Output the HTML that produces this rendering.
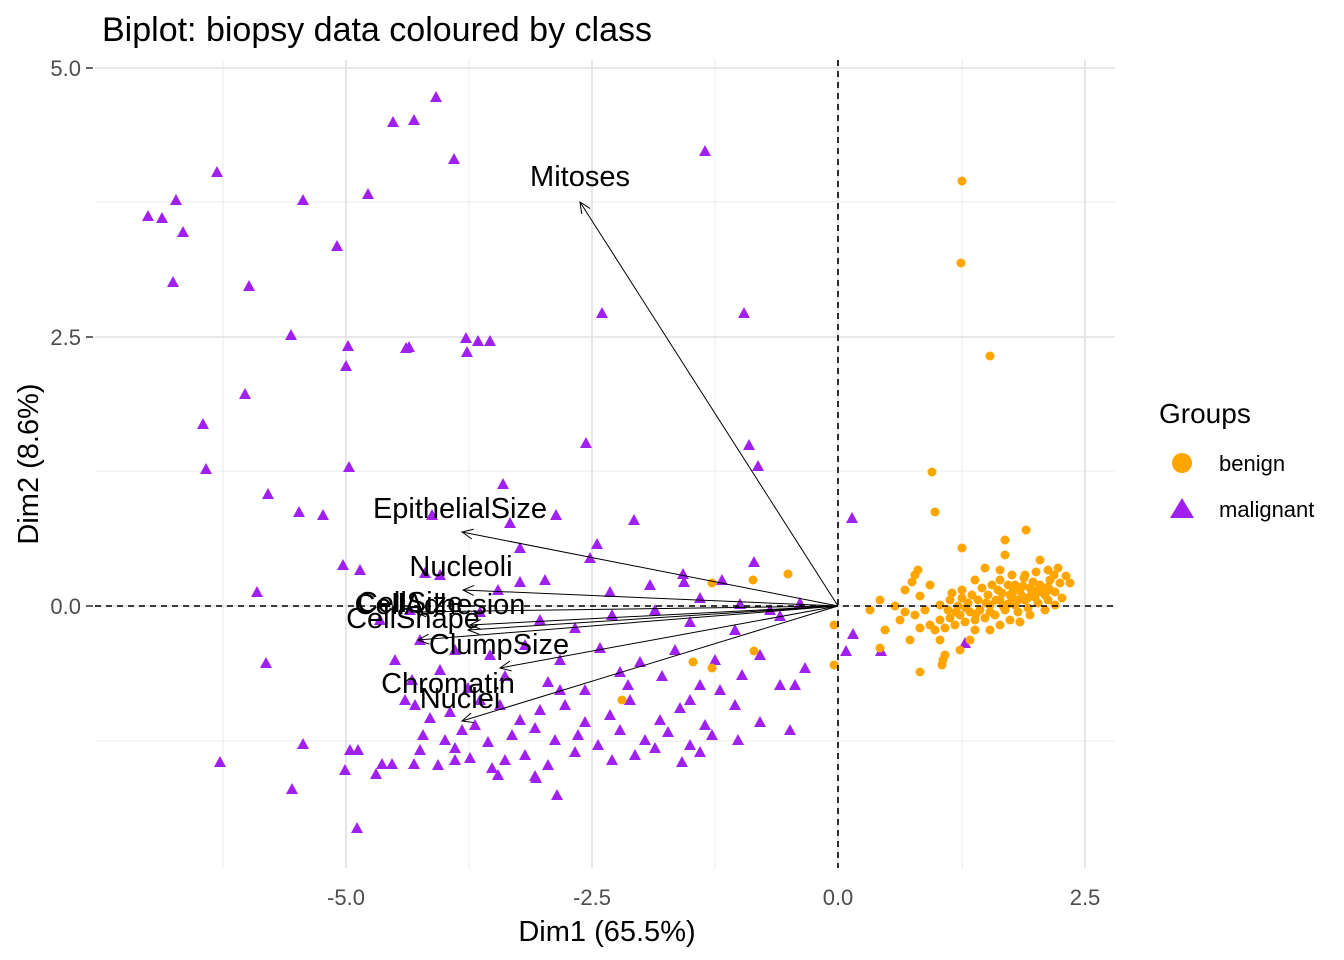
<!DOCTYPE html>
<html><head><meta charset="utf-8"><style>
html,body{margin:0;padding:0;background:#fff;}
svg{display:block;font-family:"Liberation Sans",Arial,sans-serif;}
</style></head><body>
<svg width="1344" height="960" xmlns="http://www.w3.org/2000/svg">
<defs>
<polygon id="t" points="0,-6 6,5 -6,5" fill="#A020F0"/>
<circle id="c" r="4.5" fill="#FFA500"/>
<marker id="a" markerWidth="14" markerHeight="14" refX="12" refY="7" orient="auto" markerUnits="userSpaceOnUse"><polyline points="1,2 12,7 1,12" fill="none" stroke="#000" stroke-width="1"/></marker>
</defs>
<rect width="1344" height="960" fill="#fff"/>
<g stroke="#ebebeb" stroke-width="1">
<line x1="223" y1="60" x2="223" y2="868"/><line x1="469" y1="60" x2="469" y2="868"/>
<line x1="715" y1="60" x2="715" y2="868"/><line x1="962" y1="60" x2="962" y2="868"/>
<line x1="95" y1="202" x2="1115" y2="202"/><line x1="95" y1="471" x2="1115" y2="471"/>
<line x1="95" y1="741" x2="1115" y2="741"/>
</g>
<g stroke="#e0e0e0" stroke-width="1.6">
<line x1="346" y1="60" x2="346" y2="868"/><line x1="592" y1="60" x2="592" y2="868"/>
<line x1="838" y1="60" x2="838" y2="868"/><line x1="1085" y1="60" x2="1085" y2="868"/>
<line x1="95" y1="68" x2="1115" y2="68"/><line x1="95" y1="337" x2="1115" y2="337"/>
<line x1="95" y1="606" x2="1115" y2="606"/>
</g>
<g>
<use href="#t" x="436" y="97"/><use href="#t" x="393" y="122"/><use href="#t" x="414" y="120"/><use href="#t" x="454" y="159"/><use href="#t" x="705" y="151"/><use href="#t" x="217" y="172"/><use href="#t" x="148" y="216"/><use href="#t" x="162" y="218"/><use href="#t" x="176" y="200"/><use href="#t" x="183" y="232"/><use href="#t" x="173" y="282"/><use href="#t" x="303" y="200"/><use href="#t" x="368" y="194"/><use href="#t" x="337" y="246"/><use href="#t" x="249" y="286"/><use href="#t" x="602" y="313"/><use href="#t" x="744" y="313"/><use href="#t" x="291" y="335"/><use href="#t" x="348" y="346"/><use href="#t" x="346" y="366"/><use href="#t" x="409" y="347"/><use href="#t" x="406" y="348"/><use href="#t" x="466" y="338"/><use href="#t" x="467" y="352"/><use href="#t" x="478" y="341"/><use href="#t" x="490" y="341"/><use href="#t" x="245" y="394"/><use href="#t" x="203" y="424"/><use href="#t" x="206" y="469"/><use href="#t" x="349" y="467"/><use href="#t" x="586" y="443"/><use href="#t" x="749" y="445"/><use href="#t" x="758" y="466"/><use href="#t" x="268" y="494"/><use href="#t" x="299" y="512"/><use href="#t" x="323" y="515"/><use href="#t" x="503" y="484"/><use href="#t" x="852" y="518"/><use href="#t" x="634" y="520"/><use href="#t" x="343" y="565"/><use href="#t" x="360" y="570"/><use href="#t" x="257" y="592"/><use href="#t" x="266" y="663"/><use href="#t" x="220" y="762"/><use href="#t" x="292" y="789"/><use href="#t" x="303" y="744"/><use href="#t" x="357" y="828"/><use href="#t" x="345" y="770"/><use href="#t" x="350" y="750"/><use href="#t" x="358" y="750"/><use href="#t" x="376" y="774"/><use href="#t" x="382" y="764"/><use href="#t" x="392" y="764"/><use href="#t" x="414" y="764"/><use href="#t" x="438" y="765"/><use href="#t" x="535" y="776"/><use href="#t" x="557" y="795"/><use href="#t" x="853" y="634"/><use href="#t" x="881" y="651"/><use href="#t" x="846" y="651"/><use href="#t" x="965" y="643"/>
<use href="#t" x="432" y="515"/><use href="#t" x="510" y="523"/><use href="#t" x="556" y="515"/><use href="#t" x="597" y="544"/><use href="#t" x="590" y="558"/><use href="#t" x="520" y="548"/><use href="#t" x="683" y="574"/><use href="#t" x="684" y="582"/><use href="#t" x="754" y="562"/><use href="#t" x="722" y="580"/>
<use href="#t" x="425" y="573"/><use href="#t" x="440" y="575"/><use href="#t" x="545" y="580"/><use href="#t" x="520" y="582"/><use href="#t" x="498" y="590"/><use href="#t" x="610" y="592"/><use href="#t" x="650" y="585"/><use href="#t" x="700" y="598"/><use href="#t" x="740" y="604"/><use href="#t" x="770" y="610"/><use href="#t" x="800" y="603"/><use href="#t" x="480" y="612"/><use href="#t" x="540" y="620"/><use href="#t" x="575" y="628"/><use href="#t" x="612" y="615"/><use href="#t" x="655" y="610"/><use href="#t" x="690" y="622"/><use href="#t" x="735" y="630"/><use href="#t" x="780" y="616"/>
<use href="#t" x="420" y="640"/><use href="#t" x="455" y="650"/><use href="#t" x="490" y="655"/><use href="#t" x="525" y="645"/><use href="#t" x="560" y="660"/><use href="#t" x="600" y="648"/><use href="#t" x="640" y="662"/><use href="#t" x="675" y="650"/><use href="#t" x="715" y="660"/><use href="#t" x="760" y="655"/><use href="#t" x="805" y="668"/><use href="#t" x="440" y="670"/><use href="#t" x="505" y="676"/><use href="#t" x="548" y="682"/><use href="#t" x="585" y="690"/><use href="#t" x="628" y="685"/><use href="#t" x="662" y="676"/><use href="#t" x="700" y="685"/><use href="#t" x="742" y="675"/><use href="#t" x="780" y="685"/><use href="#t" x="795" y="685"/><use href="#t" x="468" y="688"/>
<use href="#t" x="415" y="705"/><use href="#t" x="430" y="718"/><use href="#t" x="450" y="712"/><use href="#t" x="475" y="725"/><use href="#t" x="500" y="705"/><use href="#t" x="520" y="720"/><use href="#t" x="540" y="710"/><use href="#t" x="565" y="705"/><use href="#t" x="585" y="722"/><use href="#t" x="610" y="715"/><use href="#t" x="630" y="700"/><use href="#t" x="660" y="720"/><use href="#t" x="680" y="708"/><use href="#t" x="705" y="725"/><use href="#t" x="735" y="705"/><use href="#t" x="760" y="722"/><use href="#t" x="790" y="730"/><use href="#t" x="423" y="735"/><use href="#t" x="445" y="740"/><use href="#t" x="462" y="730"/><use href="#t" x="488" y="742"/><use href="#t" x="512" y="735"/><use href="#t" x="535" y="728"/><use href="#t" x="555" y="740"/><use href="#t" x="578" y="735"/><use href="#t" x="598" y="745"/><use href="#t" x="620" y="730"/><use href="#t" x="645" y="740"/><use href="#t" x="668" y="732"/><use href="#t" x="690" y="745"/><use href="#t" x="712" y="735"/><use href="#t" x="738" y="740"/>
<use href="#t" x="420" y="750"/><use href="#t" x="455" y="748"/><use href="#t" x="470" y="758"/><use href="#t" x="492" y="768"/><use href="#t" x="505" y="760"/><use href="#t" x="525" y="755"/><use href="#t" x="548" y="765"/><use href="#t" x="575" y="752"/><use href="#t" x="612" y="760"/><use href="#t" x="635" y="755"/><use href="#t" x="655" y="748"/><use href="#t" x="682" y="762"/><use href="#t" x="700" y="752"/><use href="#t" x="498" y="775"/><use href="#t" x="536" y="778"/><use href="#t" x="455" y="760"/>
<use href="#t" x="380" y="620"/><use href="#t" x="395" y="660"/><use href="#t" x="410" y="610"/><use href="#t" x="412" y="680"/><use href="#t" x="405" y="700"/><use href="#t" x="560" y="690"/><use href="#t" x="620" y="672"/><use href="#t" x="480" y="700"/><use href="#t" x="690" y="700"/><use href="#t" x="720" y="690"/>
</g>
<g>
<use href="#c" x="962" y="181"/><use href="#c" x="961" y="263"/><use href="#c" x="990" y="356"/><use href="#c" x="932" y="472"/><use href="#c" x="935" y="512"/><use href="#c" x="712" y="583"/><use href="#c" x="753" y="580"/><use href="#c" x="788" y="574"/><use href="#c" x="834" y="625"/><use href="#c" x="834" y="665"/><use href="#c" x="622" y="700"/><use href="#c" x="693" y="662"/><use href="#c" x="712" y="668"/><use href="#c" x="754" y="651"/><use href="#c" x="1026" y="530"/><use href="#c" x="962" y="548"/><use href="#c" x="1005" y="540"/>
<use href="#c" x="1000" y="600"/><use href="#c" x="1010" y="595"/><use href="#c" x="1020" y="590"/><use href="#c" x="1030" y="588"/><use href="#c" x="1040" y="585"/><use href="#c" x="1050" y="580"/><use href="#c" x="1060" y="583"/><use href="#c" x="1070" y="583"/><use href="#c" x="1015" y="605"/><use href="#c" x="1025" y="600"/><use href="#c" x="1035" y="597"/><use href="#c" x="1045" y="595"/><use href="#c" x="1055" y="592"/><use href="#c" x="990" y="605"/><use href="#c" x="980" y="610"/><use href="#c" x="970" y="612"/><use href="#c" x="960" y="615"/><use href="#c" x="950" y="618"/><use href="#c" x="940" y="620"/><use href="#c" x="930" y="625"/><use href="#c" x="920" y="628"/><use href="#c" x="1005" y="610"/><use href="#c" x="995" y="615"/><use href="#c" x="985" y="618"/><use href="#c" x="975" y="620"/><use href="#c" x="965" y="622"/><use href="#c" x="955" y="625"/><use href="#c" x="945" y="628"/><use href="#c" x="935" y="630"/><use href="#c" x="1018" y="612"/><use href="#c" x="1028" y="608"/><use href="#c" x="1038" y="603"/><use href="#c" x="1048" y="600"/><use href="#c" x="1008" y="585"/><use href="#c" x="998" y="590"/><use href="#c" x="988" y="595"/><use href="#c" x="978" y="600"/><use href="#c" x="968" y="603"/><use href="#c" x="958" y="606"/><use href="#c" x="948" y="610"/><use href="#c" x="1000" y="570"/><use href="#c" x="1012" y="575"/><use href="#c" x="1024" y="578"/><use href="#c" x="1036" y="572"/><use href="#c" x="1048" y="570"/><use href="#c" x="1058" y="568"/><use href="#c" x="1040" y="560"/><use href="#c" x="1005" y="555"/><use href="#c" x="985" y="568"/><use href="#c" x="975" y="580"/><use href="#c" x="962" y="590"/><use href="#c" x="950" y="600"/><use href="#c" x="940" y="605"/><use href="#c" x="925" y="610"/><use href="#c" x="915" y="615"/><use href="#c" x="905" y="612"/><use href="#c" x="895" y="606"/><use href="#c" x="880" y="600"/><use href="#c" x="870" y="610"/><use href="#c" x="885" y="630"/><use href="#c" x="900" y="620"/><use href="#c" x="910" y="640"/><use href="#c" x="920" y="596"/><use href="#c" x="930" y="585"/><use href="#c" x="915" y="575"/><use href="#c" x="905" y="590"/><use href="#c" x="940" y="640"/><use href="#c" x="945" y="655"/><use href="#c" x="960" y="650"/><use href="#c" x="970" y="640"/><use href="#c" x="975" y="630"/><use href="#c" x="990" y="630"/><use href="#c" x="1000" y="625"/><use href="#c" x="1010" y="620"/><use href="#c" x="1020" y="622"/><use href="#c" x="1030" y="615"/><use href="#c" x="1045" y="610"/><use href="#c" x="1055" y="605"/><use href="#c" x="1062" y="598"/><use href="#c" x="1050" y="590"/><use href="#c" x="1042" y="592"/><use href="#c" x="1032" y="593"/><use href="#c" x="1022" y="596"/><use href="#c" x="1012" y="598"/><use href="#c" x="1002" y="593"/><use href="#c" x="992" y="585"/><use href="#c" x="982" y="588"/><use href="#c" x="972" y="595"/><use href="#c" x="962" y="598"/><use href="#c" x="952" y="593"/><use href="#c" x="1000" y="580"/><use href="#c" x="1015" y="585"/><use href="#c" x="1025" y="575"/><use href="#c" x="918" y="570"/><use href="#c" x="912" y="582"/><use href="#c" x="943" y="660"/><use href="#c" x="920" y="672"/><use href="#c" x="942" y="665"/><use href="#c" x="880" y="648"/>
<use href="#c" x="1008" y="604"/><use href="#c" x="1018" y="600"/><use href="#c" x="1028" y="598"/><use href="#c" x="1003" y="606"/><use href="#c" x="1013" y="592"/><use href="#c" x="1023" y="586"/><use href="#c" x="1033" y="582"/><use href="#c" x="996" y="600"/><use href="#c" x="986" y="603"/><use href="#c" x="966" y="608"/><use href="#c" x="956" y="612"/><use href="#c" x="1038" y="590"/><use href="#c" x="1048" y="587"/><use href="#c" x="990" y="612"/><use href="#c" x="976" y="614"/><use href="#c" x="1066" y="576"/><use href="#c" x="1054" y="575"/>
</g>
<g stroke="#000" stroke-width="1.6" stroke-dasharray="6,5">
<line x1="95" y1="606" x2="1115" y2="606"/><line x1="838" y1="60" x2="838" y2="868"/>
</g>
<g stroke="#000" stroke-width="1" marker-end="url(#a)">
<line x1="838" y1="606" x2="580" y2="202"/>
<line x1="838" y1="606" x2="462" y2="532"/>
<line x1="838" y1="606" x2="463" y2="590"/>
<line x1="838" y1="606" x2="470" y2="625"/>
<line x1="838" y1="606" x2="415" y2="612"/>
<line x1="838" y1="606" x2="418" y2="640"/>
<line x1="838" y1="606" x2="468" y2="630"/>
<line x1="838" y1="606" x2="500" y2="668"/>
<line x1="838" y1="606" x2="462" y2="721"/>
</g>
<g font-size="29" fill="#000" text-anchor="middle">
<text x="580" y="186">Mitoses</text>
<text x="460" y="518">EpithelialSize</text>
<text x="461" y="576">Nucleoli</text>
<text x="440" y="614">CellAdhesion</text>
<text x="410" y="612">CellSize</text>
<text x="413" y="628">CellShape</text>
<text x="499" y="654">ClumpSize</text>
<text x="448" y="693">Chromatin</text>
<text x="460" y="708">Nuclei</text>
</g>
<g font-size="22" fill="#4d4d4d">
<g text-anchor="end"><text x="81" y="76">5.0</text><text x="81" y="345">2.5</text><text x="81" y="614">0.0</text></g>
<g text-anchor="middle"><text x="346" y="905">-5.0</text><text x="592" y="905">-2.5</text><text x="838" y="905">0.0</text><text x="1085" y="905">2.5</text></g>
</g>
<g stroke="#333" stroke-width="1.5"><line x1="86" y1="68" x2="93" y2="68"/><line x1="86" y1="337" x2="93" y2="337"/><line x1="86" y1="606" x2="93" y2="606"/></g>
<text x="102" y="41" font-size="34">Biplot: biopsy data coloured by class</text>
<text x="607" y="941" font-size="29" text-anchor="middle">Dim1 (65.5%)</text>
<text transform="translate(38,464) rotate(-90)" font-size="29" text-anchor="middle">Dim2 (8.6%)</text>
<text x="1159" y="423" font-size="28">Groups</text>
<circle cx="1182" cy="463" r="10" fill="#FFA500"/>
<polygon points="1182,498 1194,518 1170,518" fill="#A020F0"/>
<text x="1219" y="471" font-size="22">benign</text>
<text x="1219" y="517" font-size="22">malignant</text>
</svg>
</body></html>
